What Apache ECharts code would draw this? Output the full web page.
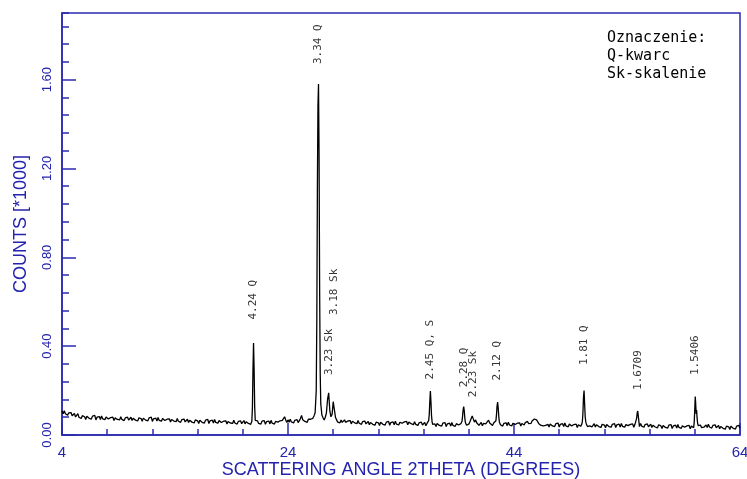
<!DOCTYPE html>
<html>
<head>
<meta charset="utf-8">
<script src="https://cdn.jsdelivr.net/npm/echarts@6/dist/echarts.min.js"></script>
<style>
  html, body { margin: 0; padding: 0; background: #fff; }
  #chart { width: 747px; height: 479px; }
</style>
</head>
<body>
<div id="chart"></div>
<script>
// diffractogram: [2theta (deg), counts *1000]
const scan = [
  [4.0,0.108],[4.1,0.096],[4.2,0.109],[4.3,0.096],[4.4,0.100],[4.5,0.089],[4.6,0.100],[4.7,0.093],[4.8,0.101],[4.9,0.087],
  [5.0,0.086],[5.1,0.097],[5.2,0.081],[5.3,0.090],[5.4,0.096],[5.5,0.080],[5.6,0.085],[5.7,0.074],[5.8,0.087],[5.9,0.080],
  [6.0,0.082],[6.1,0.070],[6.2,0.084],[6.3,0.087],[6.4,0.075],[6.5,0.081],[6.6,0.072],[6.7,0.085],[6.8,0.076],[6.9,0.088],
  [7.0,0.068],[7.1,0.080],[7.2,0.074],[7.3,0.083],[7.4,0.070],[7.5,0.086],[7.6,0.073],[7.7,0.077],[7.8,0.069],[7.9,0.081],
  [8.0,0.083],[8.1,0.072],[8.2,0.067],[8.3,0.078],[8.4,0.069],[8.5,0.080],[8.6,0.065],[8.7,0.077],[8.8,0.082],[8.9,0.070],
  [9.0,0.079],[9.1,0.068],[9.2,0.082],[9.3,0.070],[9.4,0.075],[9.5,0.065],[9.6,0.077],[9.7,0.071],[9.8,0.080],[9.9,0.067],
  [10.0,0.068],[10.1,0.080],[10.2,0.065],[10.3,0.075],[10.4,0.082],[10.5,0.067],[10.6,0.073],[10.7,0.063],[10.8,0.077],[10.9,0.071],
  [11.0,0.074],[11.1,0.062],[11.2,0.076],[11.3,0.079],[11.4,0.067],[11.5,0.073],[11.6,0.064],[11.7,0.077],[11.8,0.068],[11.9,0.080],
  [12.0,0.061],[12.1,0.073],[12.2,0.067],[12.3,0.076],[12.4,0.063],[12.5,0.079],[12.6,0.066],[12.7,0.070],[12.8,0.062],[12.9,0.074],
  [13.0,0.076],[13.1,0.065],[13.2,0.060],[13.3,0.071],[13.4,0.062],[13.5,0.073],[13.6,0.058],[13.7,0.070],[13.8,0.075],[13.9,0.063],
  [14.0,0.071],[14.1,0.060],[14.2,0.074],[14.3,0.062],[14.4,0.067],[14.5,0.057],[14.6,0.069],[14.7,0.063],[14.8,0.072],[14.9,0.059],
  [15.0,0.059],[15.1,0.071],[15.2,0.056],[15.3,0.066],[15.4,0.073],[15.5,0.058],[15.6,0.064],[15.7,0.054],[15.8,0.068],[15.9,0.062],
  [16.0,0.064],[16.1,0.052],[16.2,0.066],[16.3,0.069],[16.4,0.057],[16.5,0.063],[16.6,0.054],[16.7,0.067],[16.8,0.058],[16.9,0.070],
  [17.0,0.052],[17.1,0.064],[17.2,0.058],[17.3,0.067],[17.4,0.054],[17.5,0.070],[17.6,0.057],[17.7,0.061],[17.8,0.053],[17.9,0.065],
  [18.0,0.067],[18.1,0.056],[18.2,0.051],[18.3,0.062],[18.4,0.053],[18.5,0.064],[18.6,0.049],[18.7,0.061],[18.8,0.066],[18.9,0.054],
  [19.0,0.063],[19.1,0.052],[19.2,0.066],[19.3,0.054],[19.4,0.059],[19.5,0.049],[19.6,0.061],[19.7,0.055],[19.8,0.064],[19.9,0.051],
  [20.0,0.053],[20.1,0.065],[20.2,0.050],[20.3,0.060],[20.4,0.067],[20.5,0.052],[20.6,0.058],[20.7,0.048],[20.8,0.062],
  [20.85,0.120],[20.9,0.290],[20.95,0.414],[21.0,0.300],[21.05,0.130],[21.1,0.066],
  [21.2,0.061],[21.3,0.064],[21.4,0.052],[21.5,0.058],[21.6,0.049],[21.7,0.062],[21.8,0.053],[21.9,0.065],
  [22.0,0.048],[22.1,0.060],[22.2,0.054],[22.3,0.063],[22.4,0.050],[22.5,0.066],[22.6,0.053],[22.7,0.057],[22.8,0.049],[22.9,0.061],
  [23.0,0.069],[23.1,0.058],[23.2,0.053],[23.3,0.064],[23.4,0.055],[23.5,0.066],[23.6,0.057],[23.7,0.082],[23.8,0.068],[23.9,0.056],
  [24.0,0.068],[24.1,0.057],[24.2,0.071],[24.3,0.059],[24.4,0.064],[24.5,0.054],[24.6,0.066],[24.7,0.060],[24.8,0.069],[24.9,0.056],
  [25.0,0.062],[25.1,0.074],[25.2,0.088],[25.3,0.069],[25.4,0.076],[25.5,0.061],[25.6,0.067],[25.7,0.057],[25.8,0.071],[25.9,0.065],
  [26.0,0.071],[26.1,0.062],[26.2,0.075],[26.3,0.086],[26.4,0.100],[26.5,0.200],[26.55,0.520],[26.6,1.100],[26.65,1.480],
  [26.7,1.580],[26.75,1.250],[26.8,0.650],[26.85,0.280],[26.9,0.140],[27.0,0.090],
  [27.1,0.078],[27.2,0.068],[27.3,0.080],[27.4,0.100],[27.5,0.160],[27.6,0.190],[27.65,0.150],[27.7,0.110],[27.8,0.082],
  [27.9,0.092],[27.95,0.120],[28.0,0.150],[28.05,0.155],[28.1,0.115],[28.2,0.080],
  [28.3,0.068],[28.4,0.058],[28.5,0.066],[28.6,0.055],[28.7,0.067],[28.8,0.057],[28.9,0.062],
  [29.0,0.068],[29.1,0.057],[29.2,0.052],[29.3,0.063],[29.4,0.054],[29.5,0.065],[29.6,0.050],[29.7,0.062],[29.8,0.067],[29.9,0.055],
  [30.0,0.062],[30.1,0.051],[30.2,0.065],[30.3,0.053],[30.4,0.058],[30.5,0.048],[30.6,0.060],[30.7,0.054],[30.8,0.063],[30.9,0.050],
  [31.0,0.049],[31.1,0.061],[31.2,0.046],[31.3,0.056],[31.4,0.063],[31.5,0.048],[31.6,0.054],[31.7,0.044],[31.8,0.058],[31.9,0.052],
  [32.0,0.055],[32.1,0.043],[32.2,0.057],[32.3,0.060],[32.4,0.048],[32.5,0.054],[32.6,0.045],[32.7,0.058],[32.8,0.049],[32.9,0.061],
  [33.0,0.044],[33.1,0.056],[33.2,0.050],[33.3,0.059],[33.4,0.046],[33.5,0.062],[33.6,0.049],[33.7,0.053],[33.8,0.045],[33.9,0.057],
  [34.0,0.064],[34.1,0.053],[34.2,0.048],[34.3,0.059],[34.4,0.050],[34.5,0.061],[34.6,0.046],[34.7,0.058],[34.8,0.063],[34.9,0.051],
  [35.0,0.057],[35.1,0.046],[35.2,0.060],[35.3,0.048],[35.4,0.053],[35.5,0.043],[35.6,0.055],[35.7,0.049],[35.8,0.058],[35.9,0.045],
  [36.0,0.045],[36.1,0.057],[36.2,0.042],[36.3,0.052],[36.4,0.059],[36.45,0.065],[36.5,0.092],[36.55,0.150],[36.6,0.198],
  [36.65,0.150],[36.7,0.088],[36.75,0.060],[36.8,0.048],[36.9,0.052],
  [37.0,0.050],[37.1,0.038],[37.2,0.052],[37.3,0.055],[37.4,0.043],[37.5,0.049],[37.6,0.040],[37.7,0.053],[37.8,0.044],[37.9,0.056],
  [38.0,0.038],[38.1,0.050],[38.2,0.044],[38.3,0.053],[38.4,0.040],[38.5,0.056],[38.6,0.043],[38.7,0.047],[38.8,0.039],[38.9,0.051],
  [39.0,0.056],[39.1,0.045],[39.2,0.040],[39.3,0.051],[39.4,0.062],[39.45,0.085],[39.5,0.115],[39.55,0.128],[39.6,0.108],
  [39.65,0.075],[39.7,0.056],[39.8,0.044],[39.9,0.053],
  [40.0,0.049],[40.1,0.060],[40.2,0.068],[40.3,0.086],[40.35,0.092],[40.4,0.078],[40.5,0.058],[40.6,0.068],[40.7,0.055],[40.8,0.051],[40.9,0.043],
  [41.0,0.045],[41.1,0.057],[41.2,0.042],[41.3,0.052],[41.4,0.059],[41.5,0.050],[41.6,0.055],[41.65,0.058],[41.75,0.067],[41.85,0.054],[41.9,0.046],
  [42.0,0.052],[42.1,0.043],[42.2,0.054],[42.3,0.050],[42.4,0.064],[42.45,0.092],[42.5,0.130],[42.55,0.148],[42.6,0.122],
  [42.65,0.085],[42.7,0.060],[42.8,0.046],[42.9,0.054],
  [43.0,0.040],[43.1,0.052],[43.2,0.046],[43.3,0.055],[43.4,0.042],[43.5,0.058],[43.6,0.045],[43.7,0.049],[43.8,0.041],[43.9,0.053],
  [44.0,0.058],[44.1,0.047],[44.2,0.042],[44.3,0.053],[44.4,0.044],[44.5,0.055],[44.6,0.040],[44.7,0.052],[44.8,0.057],[44.9,0.045],
  [45.0,0.056],[45.1,0.047],[45.2,0.061],[45.3,0.051],[45.4,0.058],[45.5,0.052],[45.6,0.063],[45.7,0.062],[45.8,0.072],[45.9,0.076],
  [46.0,0.068],[46.1,0.060],[46.2,0.051],[46.3,0.056],[46.4,0.043],[46.5,0.050],[46.6,0.041],[46.7,0.049],[46.8,0.043],[46.9,0.051],
  [47.0,0.048],[47.1,0.036],[47.2,0.050],[47.3,0.053],[47.4,0.041],[47.5,0.047],[47.6,0.038],[47.7,0.051],[47.8,0.042],[47.9,0.054],
  [48.0,0.036],[48.1,0.048],[48.2,0.042],[48.3,0.051],[48.4,0.038],[48.5,0.054],[48.6,0.041],[48.7,0.045],[48.8,0.037],[48.9,0.049],
  [49.0,0.052],[49.1,0.041],[49.2,0.036],[49.3,0.047],[49.4,0.038],[49.5,0.049],[49.6,0.034],[49.7,0.046],[49.8,0.051],[49.9,0.039],
  [50.0,0.049],[50.05,0.060],[50.1,0.100],[50.15,0.170],[50.2,0.200],[50.25,0.140],[50.3,0.082],[50.35,0.060],[50.4,0.050],
  [50.5,0.038],[50.6,0.047],[50.7,0.041],[50.8,0.050],[50.9,0.037],
  [51.0,0.039],[51.1,0.051],[51.2,0.036],[51.3,0.046],[51.4,0.053],[51.5,0.038],[51.6,0.044],[51.7,0.034],[51.8,0.048],[51.9,0.042],
  [52.0,0.045],[52.1,0.033],[52.2,0.047],[52.3,0.050],[52.4,0.038],[52.5,0.044],[52.6,0.035],[52.7,0.048],[52.8,0.039],[52.9,0.051],
  [53.0,0.034],[53.1,0.046],[53.2,0.040],[53.3,0.049],[53.4,0.036],[53.5,0.052],[53.6,0.039],[53.7,0.043],[53.8,0.035],[53.9,0.047],
  [54.0,0.053],[54.1,0.042],[54.2,0.037],[54.3,0.048],[54.4,0.039],[54.5,0.050],[54.6,0.035],[54.7,0.047],[54.8,0.054],
  [54.85,0.075],[54.9,0.098],[54.95,0.108],[55.0,0.085],[55.05,0.062],
  [55.1,0.038],[55.2,0.052],[55.3,0.040],[55.4,0.045],[55.5,0.035],[55.6,0.047],[55.7,0.041],[55.8,0.050],[55.9,0.037],
  [56.0,0.037],[56.1,0.049],[56.2,0.034],[56.3,0.044],[56.4,0.051],[56.5,0.036],[56.6,0.042],[56.7,0.032],[56.8,0.046],[56.9,0.040],
  [57.0,0.041],[57.1,0.029],[57.2,0.043],[57.3,0.046],[57.4,0.034],[57.5,0.040],[57.6,0.031],[57.7,0.044],[57.8,0.035],[57.9,0.047],
  [58.0,0.029],[58.1,0.041],[58.2,0.035],[58.3,0.044],[58.4,0.031],[58.5,0.047],[58.6,0.034],[58.7,0.038],[58.8,0.030],[58.9,0.042],
  [59.0,0.046],[59.1,0.035],[59.2,0.030],[59.3,0.041],[59.4,0.032],[59.5,0.043],[59.6,0.028],[59.7,0.040],[59.8,0.045],[59.9,0.033],
  [59.95,0.058],[60.0,0.120],[60.04,0.173],[60.08,0.140],[60.12,0.095],[60.16,0.112],[60.2,0.078],[60.25,0.052],[60.3,0.042],
  [60.4,0.036],[60.5,0.045],[60.6,0.033],[60.7,0.042],[60.8,0.035],[60.9,0.044],
  [61.0,0.045],[61.1,0.034],[61.2,0.048],[61.3,0.036],[61.4,0.041],[61.5,0.031],[61.6,0.043],[61.7,0.037],[61.8,0.046],[61.9,0.033],
  [62.0,0.031],[62.1,0.043],[62.2,0.028],[62.3,0.038],[62.4,0.045],[62.5,0.030],[62.6,0.036],[62.7,0.026],[62.8,0.040],[62.9,0.034],
  [63.0,0.037],[63.1,0.025],[63.2,0.039],[63.3,0.042],[63.4,0.030],[63.5,0.036],[63.6,0.027],[63.7,0.040],[63.8,0.031],[63.9,0.043],
  [64.0,0.030]
];

// peak annotations: [2theta, level where text starts, text]
const peakLabels = [
  [20.95, 0.52, "4.24 Q"],
  [26.7, 1.67, "3.34 Q"],
  [27.6, 0.27, "3.23 Sk"],
  [28.05, 0.54, "3.18 Sk"],
  [36.6, 0.25, "2.45 Q, S"],
  [39.55, 0.215, "2.28 Q"],
  [40.35, 0.17, "2.23 Sk"],
  [42.55, 0.245, "2.12 Q"],
  [50.2, 0.315, "1.81 Q"],
  [54.95, 0.203, "1.6709"],
  [60.05, 0.27, "1.5406"]
];

const legendLines = ["Oznaczenie:", "Q-kwarc", "Sk-skalenie"];

const blue = "#2a2ab0";
const txtBlue = "#2323ad";

const chart = echarts.init(document.getElementById("chart"));

const option = {
  animation: false,
  backgroundColor: "#fff",
  title: {
    text: legendLines.join("\n"),
    left: 602,
    top: 24,
    textStyle: {
      fontFamily: "DejaVu Sans Mono",
      fontSize: 15,
      fontWeight: "normal",
      color: "#000",
      lineHeight: 18,
    },
  },
  grid: {
    left: 62,
    right: 7,
    top: 13,
    bottom: 44,
    outerBoundsMode: "none",
    show: true,
    borderColor: blue,
    borderWidth: 1.5,
    backgroundColor: "transparent",
  },
  xAxis: {
    type: "value",
    min: 4,
    max: 64,
    interval: 20,
    name: "SCATTERING ANGLE 2THETA (DEGREES)",
    nameLocation: "middle",
    nameGap: 26,
    nameMoveOverlap: false,
    nameTextStyle: { fontFamily: "Liberation Sans", fontSize: 18, color: txtBlue },
    axisLine: { lineStyle: { color: blue, width: 1.5 } },
    axisTick: { inside: true, length: 12, lineStyle: { color: blue, width: 1.5 } },
    minorTick: { show: true, splitNumber: 5, length: 6, lineStyle: { color: blue, width: 1.5 } },
    splitLine: { show: false },
    axisLabel: { fontFamily: "Liberation Sans", fontSize: 15, color: txtBlue, margin: 10 },
  },
  yAxis: [
    {
      type: "value",
      min: 0,
      max: 1.9,
      interval: 0.4,
      name: "COUNTS [*1000]",
      nameLocation: "middle",
      nameGap: 32,
      nameMoveOverlap: false,
      nameTextStyle: { fontFamily: "Liberation Sans", fontSize: 18, color: txtBlue },
      axisLine: { lineStyle: { color: blue, width: 1.5 } },
      axisTick: { inside: true, length: 14, lineStyle: { color: blue, width: 1.5 } },
      splitLine: { show: false },
      axisLabel: {
        rotate: 90,
        showMaxLabel: false,
        margin: 8,
        fontFamily: "Liberation Sans",
        fontSize: 13,
        color: txtBlue,
        formatter: (v) => v.toFixed(2),
      },
    },
    {
      type: "value",
      position: "left",
      min: 0,
      max: 1.9,
      interval: 0.08,
      axisLine: { show: false },
      axisTick: { inside: true, length: 7, lineStyle: { color: blue, width: 1.5 } },
      axisLabel: { show: false },
      splitLine: { show: false },
    },
  ],
  series: [
    {
      type: "line",
      data: scan,
      showSymbol: false,
      symbol: "none",
      silent: true,
      lineStyle: { color: "#000", width: 1.3 },
    },
    {
      type: "scatter",
      data: peakLabels,
      symbolSize: 1,
      silent: true,
      itemStyle: { color: "rgba(0,0,0,0)" },
      label: {
        show: true,
        position: "inside",
        rotate: 90,
        align: "left",
        verticalAlign: "middle",
        fontFamily: "DejaVu Sans Mono",
        fontSize: 11,
        color: "#000",
        formatter: (p) => p.value[2],
      },
      z: 5,
    },
  ],
};

chart.setOption(option);
</script>
</body>
</html>
